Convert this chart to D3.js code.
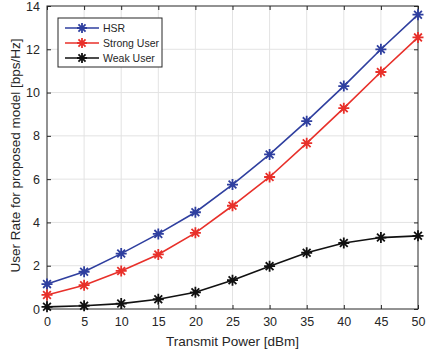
<!DOCTYPE html>
<html>
<head>
<meta charset="utf-8">
<script src="https://cdn.jsdelivr.net/npm/d3@7"></script>
<style>
  body { margin: 0; background: #fff; }
  svg { font-family: "Liberation Sans", Arial, sans-serif; }
</style>
</head>
<body>
<svg id="chart" width="427" height="352"></svg>
<script>
// data
const power = [0, 5, 10, 15, 20, 25, 30, 35, 40, 45, 50]
const hsr = [1.15, 1.72, 2.56, 3.47, 4.47, 5.75, 7.14, 8.68, 10.3, 12.0, 13.6]
const strong = [0.65, 1.1, 1.76, 2.52, 3.52, 4.77, 6.1, 7.66, 9.28, 10.95, 12.55]
const weak = [0.1, 0.15, 0.25, 0.45, 0.77, 1.33, 1.98, 2.6, 3.05, 3.3, 3.38]
const xTicks = [0, 5, 10, 15, 20, 25, 30, 35, 40, 45, 50]
const yTicks = [0, 2, 4, 6, 8, 10, 12, 14]
const seriesNames = ['HSR', 'Strong User', 'Weak User']
const seriesColors = ['#2f3f9f', '#e8302a', '#111111']

let margin = { top: 6, right: 9, bottom: 43, left: 47 },
    width = 427 - margin.left - margin.right,
    height = 352 - margin.top - margin.bottom;

let svg = d3.select('#chart')
    .append('g')
    .attr('transform', `translate(${margin.left}, ${margin.top})`)

let x = d3.scaleLinear().domain([0, 50]).range([0, width])
let y = d3.scaleLinear().domain([0, 14]).range([height, 0])

// grid
svg.append('g').selectAll('line').data(xTicks.slice(1, -1)).enter().append('line')
    .attr('x1', d => x(d)).attr('x2', d => x(d))
    .attr('y1', 0).attr('y2', height)
    .style('stroke', '#e3e3e3').style('stroke-width', 1)
svg.append('g').selectAll('line').data(yTicks.slice(1, -1)).enter().append('line')
    .attr('y1', d => y(d)).attr('y2', d => y(d))
    .attr('x1', 0).attr('x2', width)
    .style('stroke', '#e3e3e3').style('stroke-width', 1)

// axes, ticks pointing inward (box on)
function styleAxis(g) {
    g.select('.domain').remove()
    g.selectAll('line').style('stroke', '#262626')
    g.selectAll('text').style('fill', '#262626').style('font-size', '12.5px')
}
svg.append('g').attr('transform', `translate(0, ${height})`)
    .call(d3.axisBottom(x).tickValues(xTicks).tickSizeInner(-4).tickSizeOuter(0).tickPadding(8))
    .call(styleAxis)
svg.append('g')
    .call(d3.axisTop(x).tickValues(xTicks).tickSizeInner(-4).tickSizeOuter(0).tickFormat(''))
    .call(styleAxis)
svg.append('g')
    .call(d3.axisLeft(y).tickValues(yTicks).tickSizeInner(-4).tickSizeOuter(0).tickPadding(7))
    .call(styleAxis)
svg.append('g').attr('transform', `translate(${width}, 0)`)
    .call(d3.axisRight(y).tickValues(yTicks).tickSizeInner(-4).tickSizeOuter(0).tickFormat(''))
    .call(styleAxis)

svg.append('rect')
    .attr('width', width).attr('height', height)
    .style('fill', 'none').style('stroke', '#262626').style('stroke-width', 1)

// labels
svg.append('text')
    .attr('x', width / 2)
    .attr('y', height + 37)
    .attr('text-anchor', 'middle')
    .style('font-size', '13.5px').style('fill', '#262626')
    .text('Transmit Power [dBm]')

svg.append('text')
    .attr('transform', 'rotate(-90)')
    .attr('x', -height / 2 + 2)
    .attr('y', -27)
    .attr('text-anchor', 'middle')
    .style('font-size', '13.5px').style('fill', '#262626')
    .text('User Rate for proposed model [bps/Hz]')

// asterisk marker
function star(r) {
    let p = ''
    for (let k = 0; k < 4; k++) {
        let a = k * Math.PI / 4
        let dx = r * Math.cos(a), dy = r * Math.sin(a)
        p += `M${-dx},${-dy}L${dx},${dy}`
    }
    return p
}

let line = d3.line().x((d, i) => x(power[i])).y(d => y(d))
let allSeries = [hsr, strong, weak]

allSeries.forEach(function (vals, s) {
    svg.append('path')
        .datum(vals)
        .attr('d', line)
        .style('fill', 'none')
        .style('stroke', seriesColors[s])
        .style('stroke-width', 1.6)

    svg.selectAll('.m' + s)
        .data(vals).enter().append('path')
        .attr('class', 'm' + s)
        .attr('transform', (d, i) => `translate(${x(power[i])}, ${y(d)})`)
        .attr('d', star(5.5))
        .style('stroke', seriesColors[s])
        .style('stroke-width', 1.8)
})

// legend
let legend = svg.append('g').attr('transform', 'translate(11, 12)')
legend.append('rect')
    .attr('width', 104).attr('height', 49)
    .style('fill', '#fff').style('stroke', '#262626').style('stroke-width', 1)

seriesNames.forEach(function (name, s) {
    let ly = 10 + s * 15
    legend.append('line')
        .attr('x1', 7).attr('x2', 41).attr('y1', ly).attr('y2', ly)
        .style('stroke', seriesColors[s]).style('stroke-width', 1.6)
    legend.append('path')
        .attr('transform', `translate(24, ${ly})`)
        .attr('d', star(5))
        .style('stroke', seriesColors[s]).style('stroke-width', 1.8)
    legend.append('text')
        .attr('x', 45).attr('y', ly + 4)
        .style('font-size', '10.5px').style('fill', '#262626')
        .text(name)
})
</script>
</body>
</html>
